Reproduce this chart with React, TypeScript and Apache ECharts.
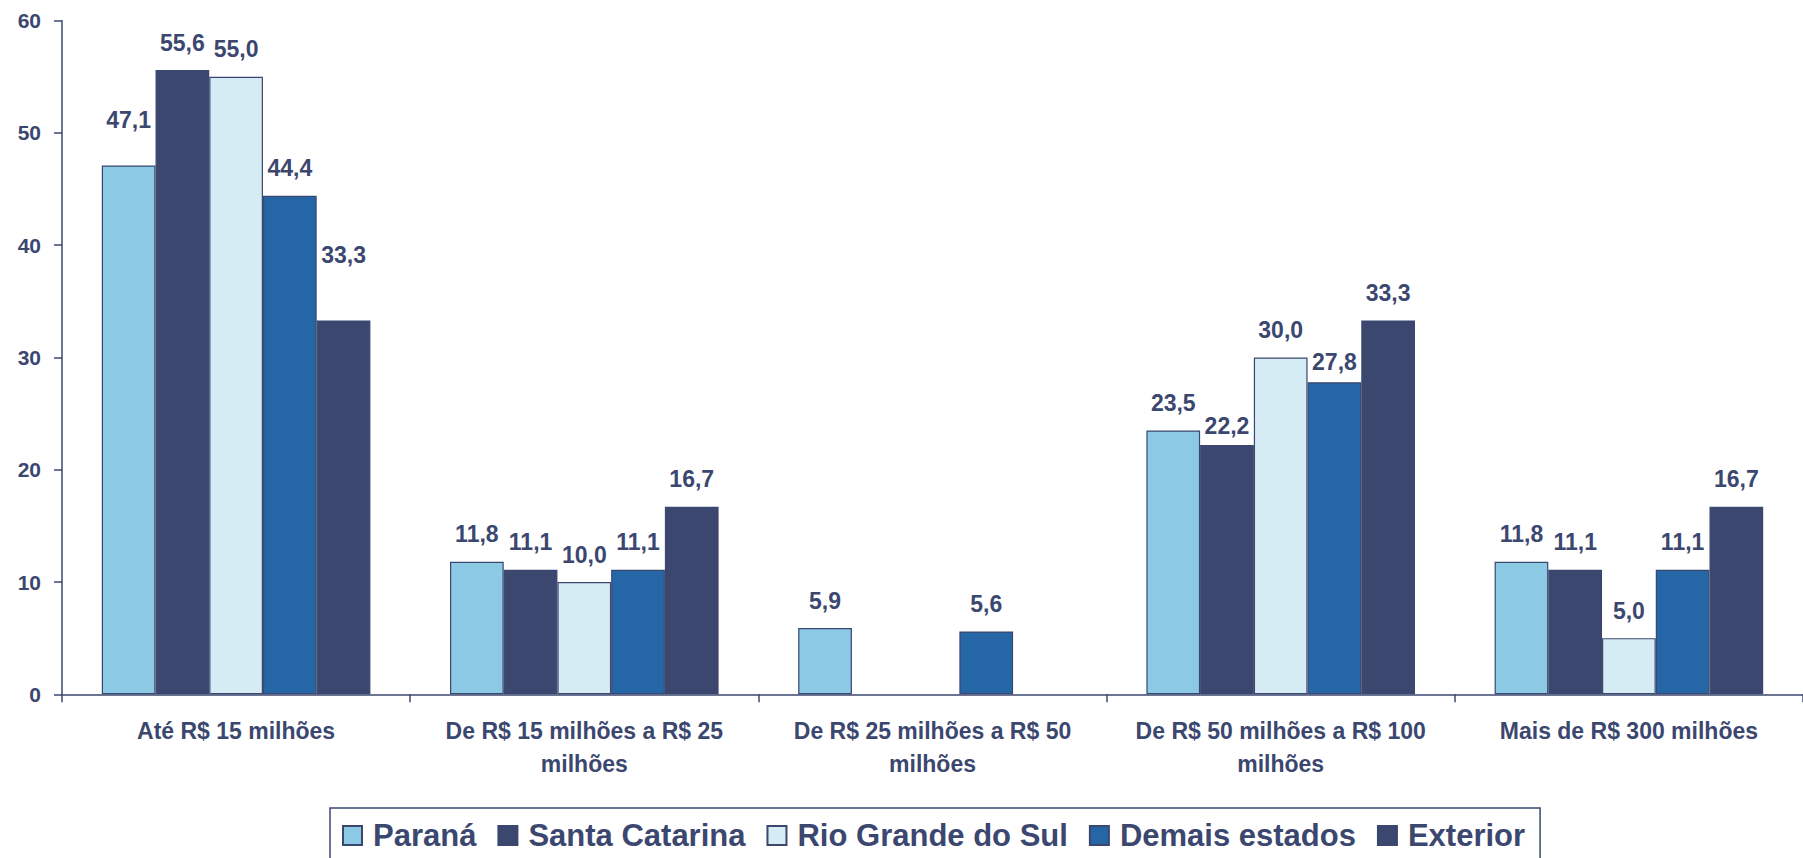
import React, { useEffect, useRef } from "react";
import * as echarts from "echarts";

const categories = [
  "Até R$ 15 milhões",
  "De R$ 15 milhões a R$ 25\nmilhões",
  "De R$ 25 milhões a R$ 50\nmilhões",
  "De R$ 50 milhões a R$ 100\nmilhões",
  "Mais de R$ 300 milhões",
];
const seriesNames = ["Paraná", "Santa Catarina", "Rio Grande do Sul", "Demais estados", "Exterior"];
const parana = [47.1, 11.8, 5.9, 23.5, 11.8];
const santaCatarina = [55.6, 11.1, null, 22.2, 11.1];
const rioGrandeDoSul = [55.0, 10.0, null, 30.0, 5.0];
const demaisEstados = [44.4, 11.1, 5.6, 27.8, 11.1];
const exterior = [33.3, 16.7, null, 33.3, 16.7];
const yTicks = [0, 10, 20, 30, 40, 50, 60];

const seriesValues = [parana, santaCatarina, rioGrandeDoSul, demaisEstados, exterior];
const colors = ["#8BC9E5", "#3B476F", "#D6ECF5", "#2566A6", "#3B476F"];
const TEXT = "#3B476F";
const FONT = "'Liberation Sans', Arial, sans-serif";

// label nudges (series index - category index -> vertical px offset), as placed in the original
const labelNudges: Record<string, number> = { "0-0": -18, "4-0": -38, "1-3": 8, "3-3": 7 };

export default function App() {
  const ref = useRef<HTMLDivElement>(null);
  useEffect(() => {
    const chart = echarts.init(ref.current!, null, { renderer: "svg" });
    chart.setOption({
      animation: false,
      textStyle: { fontFamily: FONT },
      grid: { left: 62, right: -9, top: 20.7, bottom: 163.7, containLabel: false },
      legend: {
        left: 330,
        top: 808,
        padding: [12, 15, 30, 12],
        borderColor: TEXT,
        borderWidth: 1.5,
        itemWidth: 19,
        itemHeight: 19,
        itemGap: 21,
        icon: "rect",
        data: seriesNames,
        textStyle: {
          color: TEXT,
          fontSize: 31,
          fontWeight: "bold",
          fontFamily: FONT,
          padding: [0, 0, 0, 6],
        },
      },
      xAxis: {
        type: "category",
        data: categories,
        axisLine: { lineStyle: { color: TEXT, width: 1.5 } },
        axisTick: { show: true, length: 8, lineStyle: { color: TEXT, width: 1.5 } },
        axisLabel: {
          color: TEXT,
          fontSize: 23,
          fontWeight: "bold",
          fontFamily: FONT,
          lineHeight: 33,
          margin: 20,
          interval: 0,
        },
      },
      yAxis: {
        type: "value",
        min: yTicks[0],
        max: yTicks[yTicks.length - 1],
        interval: 10,
        splitLine: { show: false },
        axisLine: { show: true, lineStyle: { color: TEXT, width: 1.5 } },
        axisTick: { show: true, length: 8, lineStyle: { color: TEXT, width: 1.5 } },
        axisLabel: {
          color: TEXT,
          fontSize: 21,
          fontWeight: "bold",
          fontFamily: FONT,
          margin: 21,
        },
      },
      series: seriesNames.map((name, i) => ({
        name,
        type: "bar",
        data: seriesValues[i].map((v, j) => {
          const nudge = labelNudges[`${i}-${j}`];
          return nudge ? { value: v, label: { offset: [0, nudge] } } : v;
        }),
        barGap: "0%",
        barCategoryGap: "22.86%",
        itemStyle: { color: colors[i], borderColor: TEXT, borderWidth: 1.2 },
        label: {
          show: true,
          position: "top",
          distance: 16,
          color: TEXT,
          fontSize: 23,
          fontWeight: "bold",
          fontFamily: FONT,
          formatter: (p: any) => (p.value == null ? "" : Number(p.value).toFixed(1).replace(".", ",")),
        },
      })),
    });
    return () => chart.dispose();
  }, []);
  return <div ref={ref} style={{ width: 1803, height: 858, position: "absolute", left: 0, top: 0 }} />;
}
